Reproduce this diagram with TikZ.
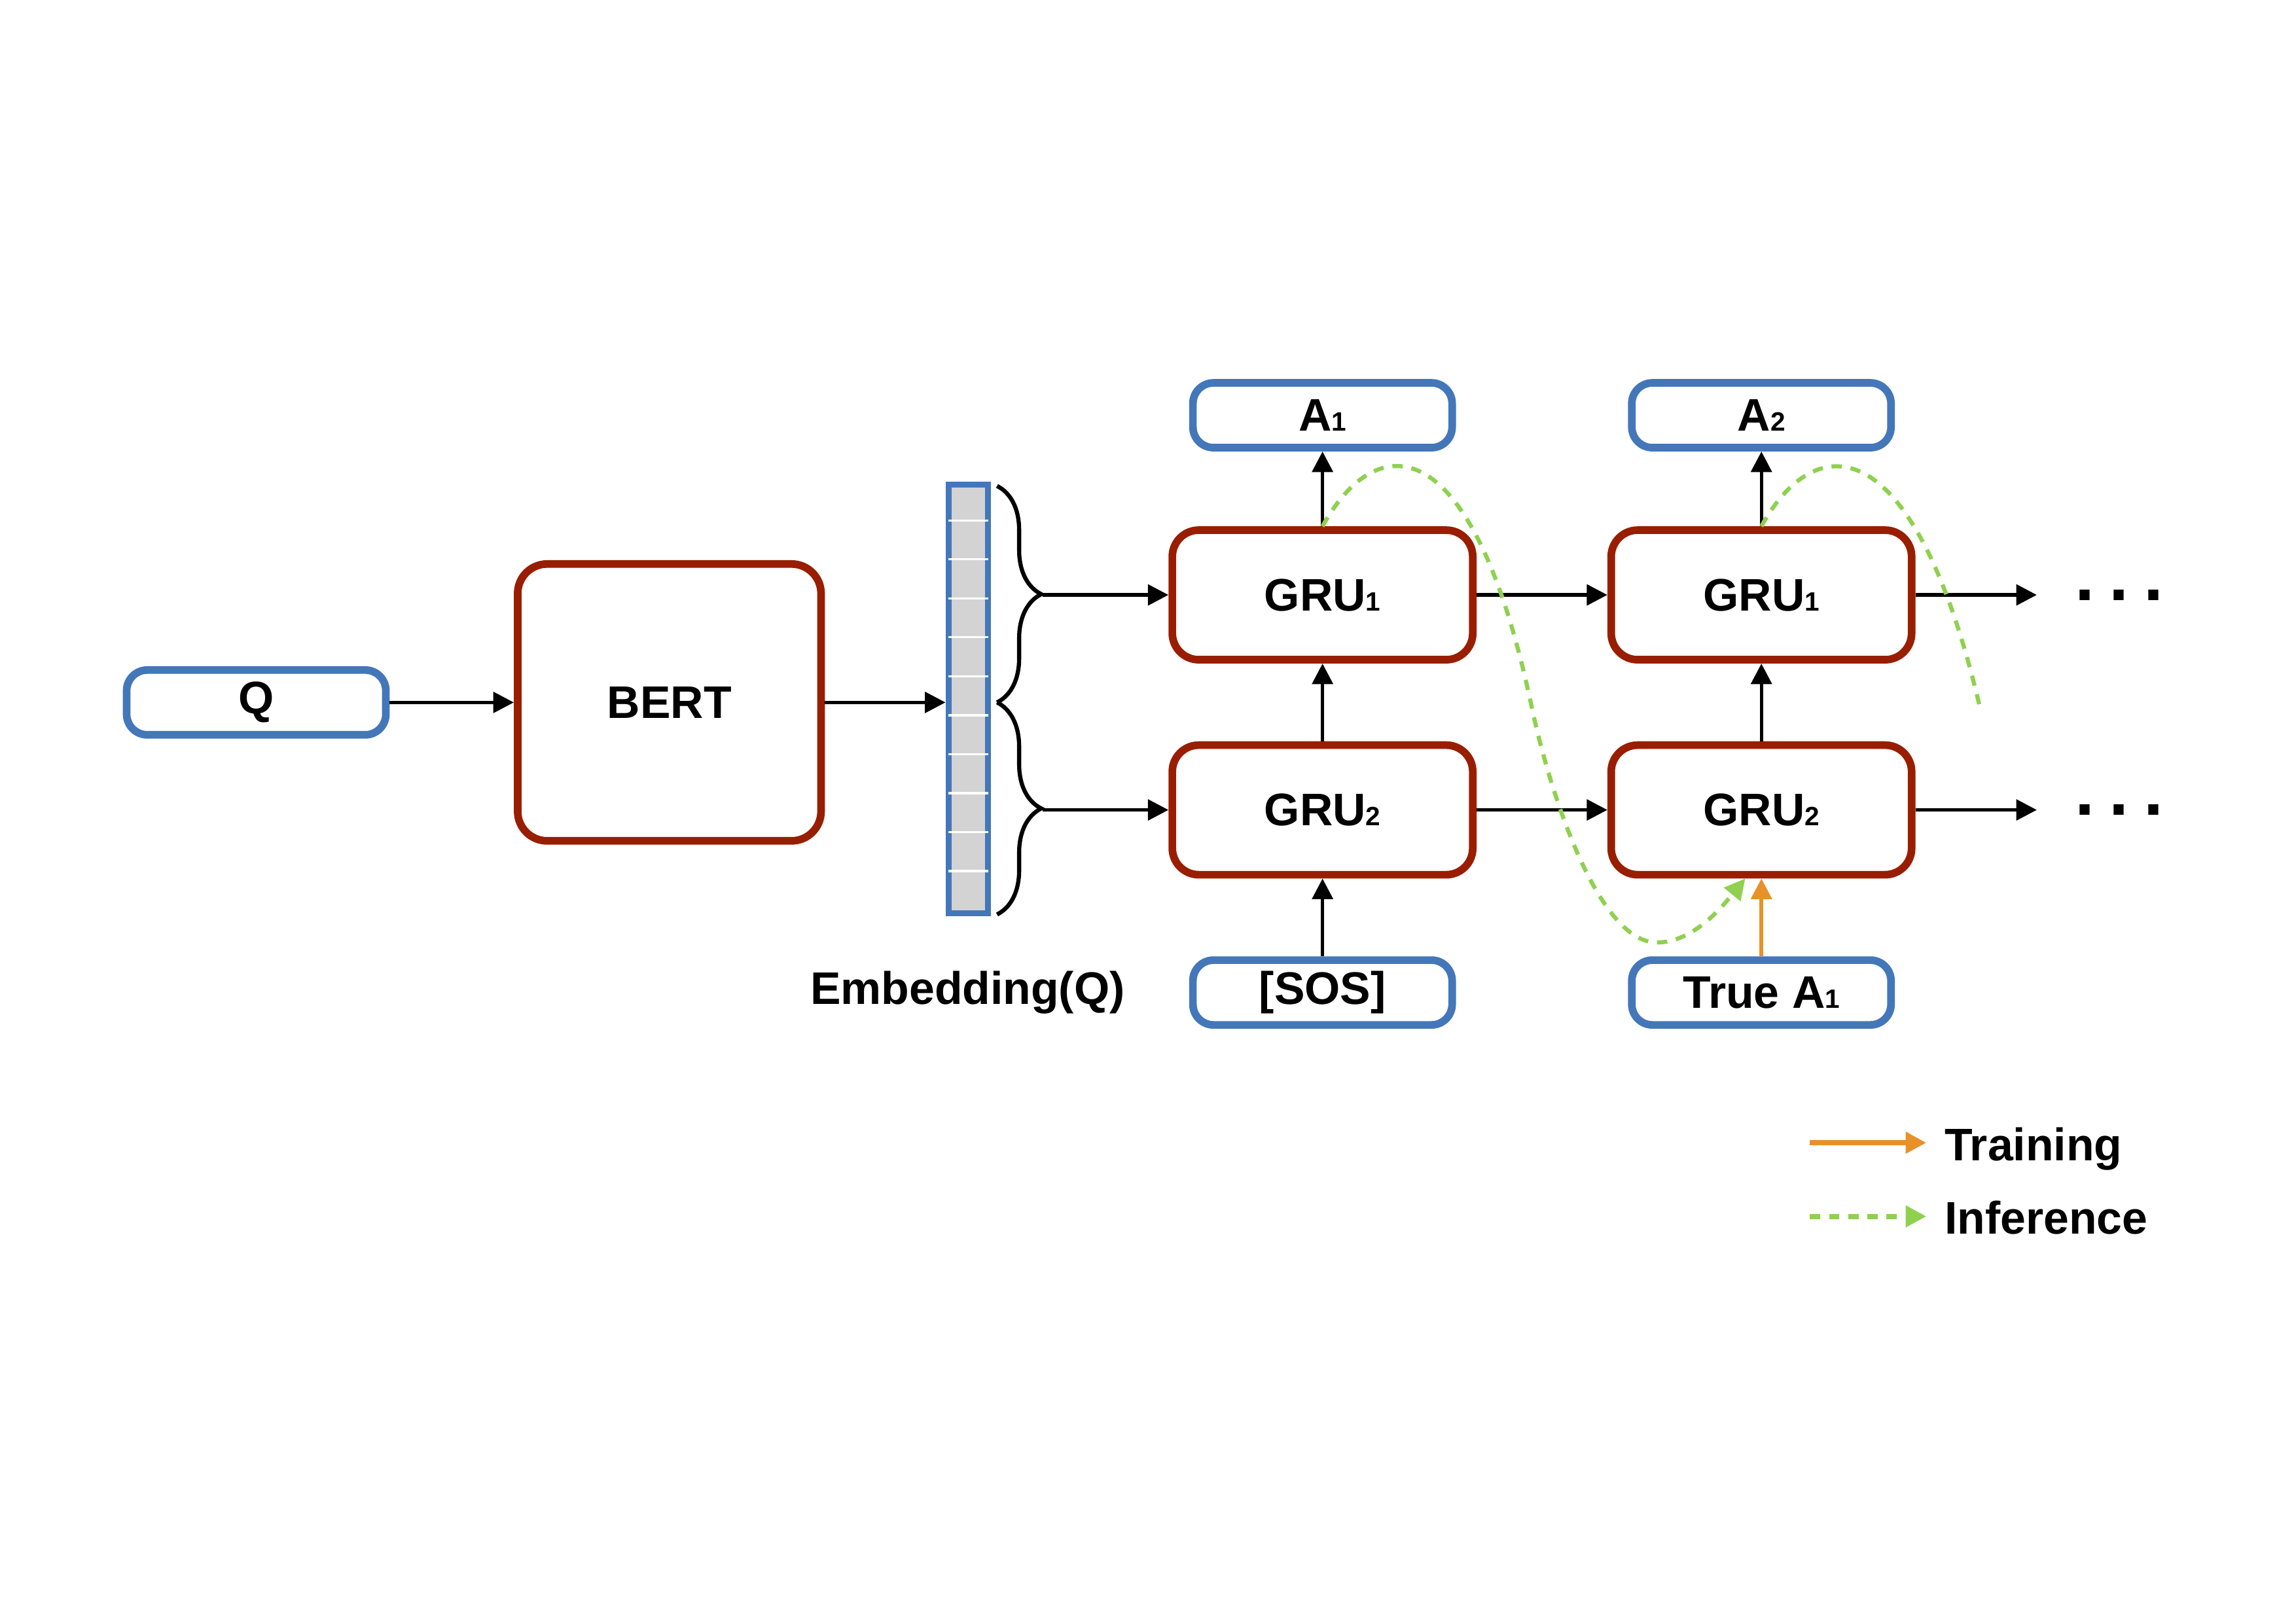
\documentclass[tikz,border=0pt]{standalone}
\usepackage{fontspec}
\setmainfont{Liberation Sans}
\usetikzlibrary{arrows.meta,decorations.pathreplacing}

\definecolor{boxblue}{HTML}{4477B9}
\definecolor{boxred}{HTML}{991E00}
\definecolor{trainorange}{HTML}{E8912A}
\definecolor{infgreen}{HTML}{8FD14F}
\definecolor{cellgray}{HTML}{D3D3D3}

\newcommand{\lowidx}[1]{{\fontsize{9}{9}\selectfont #1}}

\tikzset{
  lbl/.style={font=\fontsize{15.5}{16}\selectfont\bfseries, inner sep=0pt},
  io/.style={lbl, draw=boxblue, line width=2.6pt, rounded corners=7pt,
    minimum width=88pt, minimum height=22pt},
  gru/.style={lbl, draw=boxred, line width=2.6pt, rounded corners=9pt,
    minimum width=102pt, minimum height=44pt},
  vecbox/.style={draw=boxblue, fill=cellgray, line width=2pt,
    minimum width=13.5pt, minimum height=145.5pt, inner sep=0pt},
  link/.style={line width=1.2pt, -{Triangle[length=7pt,width=7pt]}},
  trainlink/.style={link, draw=trainorange, fill=trainorange, line width=1.3pt},
  inferline/.style={draw=infgreen, line width=1.4pt, dash pattern=on 3.5pt off 3pt},
  inferlink/.style={inferline, -{Triangle[length=7pt,width=7pt,fill=infgreen]}},
  bracket/.style={line width=1.4pt, decorate, decoration={brace, amplitude=15pt}},
  dots/.style={font=\fontsize{24}{24}\selectfont\bfseries, inner sep=0pt},
}

\begin{document}
\begin{tikzpicture}[x=0.5pt, y=-0.5pt]
  \useasboundingbox (0,0) rectangle (1559,1102);

  % encoder
  \node[io] (q) at (174,477) {Q};
  \node[lbl, draw=boxred, line width=2.6pt, rounded corners=10pt,
    minimum width=103pt, minimum height=94pt] (bert) at (454.5,477) {BERT};
  \node[vecbox] (vec) at (657.5,474.5) {};
  \foreach \i in {1,...,10}
    \draw[white, line width=0.7pt] ([xshift=1pt,yshift=-\i*13.227pt]vec.north west)
      -- ([xshift=-1pt,yshift=-\i*13.227pt]vec.north east);
  \node[lbl] (emb) at (657,674) {Embedding(Q)};
  \draw[link] (q) -- (bert);
  \draw[link] (bert) -- (bert.east -| vec.west);

  \draw[bracket] (677,330) -- (677,477);
  \draw[bracket] (677,477) -- (677,621);
  \coordinate (tipA) at (708,404);
  \coordinate (tipB) at (708,550);

  % decoder, first step
  \node[io] (a1) at (898,282) {A\lowidx{1}};
  \node[gru] (gruAa) at (898,404) {GRU\lowidx{1}};
  \node[gru] (gruBa) at (898,550) {GRU\lowidx{2}};
  \node[io] (sos) at (898,674) {[SOS]};

  % decoder, second step
  \node[io] (a2) at (1196,282) {A\lowidx{2}};
  \node[gru] (gruAb) at (1196,404) {GRU\lowidx{1}};
  \node[gru] (gruBb) at (1196,550) {GRU\lowidx{2}};
  \node[io] (truea) at (1196,674) {True A\lowidx{1}};

  \node[dots] (dotsA) at (1439,404) {.\hspace{5pt}.\hspace{5pt}.};
  \node[dots] (dotsB) at (1439,550) {.\hspace{5pt}.\hspace{5pt}.};
  \coordinate (endA) at (1383,404);
  \coordinate (endB) at (1383,550);

  \draw[link] (tipA) -- (gruAa);
  \draw[link] (tipB) -- (gruBa);
  \draw[link] (gruAa) -- (gruAb);
  \draw[link] (gruBa) -- (gruBb);
  \draw[link] (gruAb) -- (endA);
  \draw[link] (gruBb) -- (endB);
  \draw[link] (sos) -- (gruBa);
  \draw[link] (gruBa) -- (gruAa);
  \draw[link] (gruAa) -- (a1);
  \draw[trainlink] (truea) -- (gruBb);
  \draw[link] (gruBb) -- (gruAb);
  \draw[link] (gruAb) -- (a2);

  % inference feedback
  \draw[inferlink] (gruAa.north) .. controls (935,290) and (1000,290) .. (1040,480)
    .. controls (1052,537) and (1085,640) .. (1125,640)
    .. controls (1150,640) and (1170,615) .. ([xshift=-5.5pt]gruBb.south);
  \draw[inferline] (gruAb.north) .. controls (1233,290) and (1300,290) .. (1345,483);

  % legend
  \coordinate (trainS) at (1229,776);
  \coordinate (trainE) at (1308,776);
  \coordinate (inferS) at (1229,826);
  \coordinate (inferE) at (1308,826);
  \draw[trainlink, line width=1.8pt] (trainS) -- (trainE);
  \draw[inferlink, line width=1.8pt] (inferS) -- (inferE);
  \node[lbl, anchor=base west] (trainlbl) at (1320,788) {Training};
  \node[lbl, anchor=base west] (inferlbl) at (1320,838) {Inference};
\end{tikzpicture}
\end{document}
